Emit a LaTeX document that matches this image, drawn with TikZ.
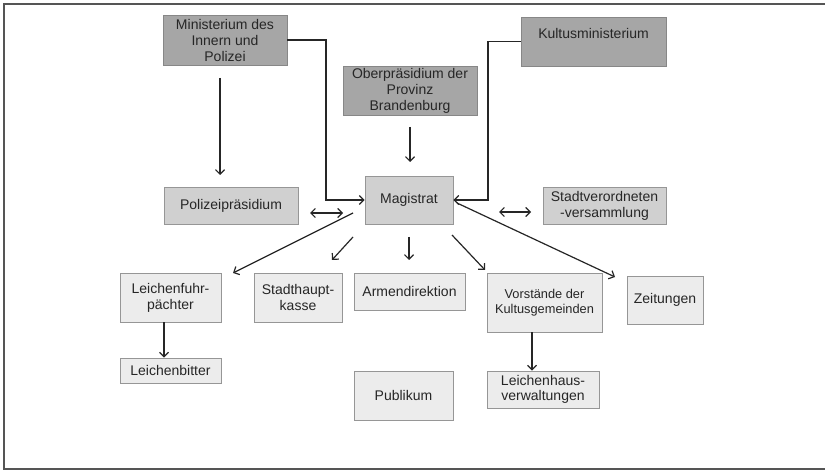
\documentclass[tikz,border=0pt]{standalone}
\usepackage{fontspec}
\setmainfont{Liberation Sans}
\usepackage{tikz}
\usetikzlibrary{arrows.meta, positioning}
\definecolor{boxdark}{RGB}{166,166,166}
\definecolor{boxmid}{RGB}{208,208,208}
\definecolor{boxlight}{RGB}{236,236,236}
\definecolor{boxline}{RGB}{150,150,150}
\definecolor{textgray}{RGB}{38,38,38}
\definecolor{framegray}{RGB}{85,85,85}
\tikzstyle{office} = [rectangle, inner sep=0pt, align=center, draw=boxline, line width=0.8pt, text=textgray, font=\fontsize{14}{16}\selectfont]
\tikzstyle{authority} = [office, fill=boxdark, draw=boxline!90!black]
\tikzstyle{cityoffice} = [office, fill=boxmid]
\tikzstyle{localoffice} = [office, fill=boxlight]
\tikzstyle{arrow} = [line width=1.2pt, color=black!85, -{Straight Barb[length=4.5pt,width=9pt]}]
\tikzstyle{dblarrow} = [line width=1.2pt, color=black!85, {Straight Barb[length=4.5pt,width=9pt]}-{Straight Barb[length=4.5pt,width=9pt]}]

\begin{document}
\begin{tikzpicture}[x=1pt, y=-1pt]

\useasboundingbox (0,0) rectangle (825,470);
\fill[white] (0,0) rectangle (825,470);

% Frame
\draw[framegray, line width=2pt] (825,4) -- (4,4) -- (4,469) -- (825,469);

% Upper authorities
\node[authority, minimum width=124pt, minimum height=50pt] (min_innern) at (225,40) {Ministerium des\\Innern und\\Polizei};
\node[authority, minimum width=134pt, minimum height=49pt] (ober_praes) at (410,90.5) {Oberpräsidium der\\Provinz\\Brandenburg};
\node[authority, minimum width=145pt, minimum height=49pt] (kultus_min) at (593.5,41.5) {Kultusministerium\\\mbox{}};

% City level
\node[cityoffice, minimum width=134pt, minimum height=37pt] (polizei) at (231,205.5) {Polizeipräsidium};
\node[cityoffice, minimum width=88pt, minimum height=48pt] (magistrat) at (409,200) {Magistrat};
\node[cityoffice, minimum width=123pt, minimum height=37pt] (stadtv) at (604.5,205.5) {Stadtverordneten\\-versammlung};

% Subordinate offices
\node[localoffice, minimum width=101pt, minimum height=49pt] (fuhr_paechter) at (170.5,297.5) {Leichenfuhr-\\pächter};
\node[localoffice, minimum width=88pt, minimum height=49pt] (stadt_kasse) at (298,297.5) {Stadthaupt-\\kasse};
\node[localoffice, minimum width=111pt, minimum height=37pt] (armen_dir) at (409.5,291.5) {Armendirektion};
\node[localoffice, minimum width=115pt, minimum height=59pt, font=\fontsize{12.8}{15}\selectfont] (vorstaende) at (544.5,302.5) {Vorstände der\\Kultusgemeinden};
\node[localoffice, minimum width=76pt, minimum height=48pt] (zeitungen) at (665,300) {Zeitungen};
\node[localoffice, minimum width=101pt, minimum height=25pt] (leichenbitter) at (170.5,370.5) {Leichenbitter};
\node[localoffice, minimum width=99pt, minimum height=49pt] (publikum) at (403.5,395.5) {Publikum};
\node[localoffice, minimum width=112pt, minimum height=37pt, font=\fontsize{14}{15}\selectfont] (leichenhaus) at (543,389.5) {Leichenhaus-\\verwaltungen};

% Free arrow ends
\coordinate (min_top) at (220,78);
\coordinate (pol_top) at (220,175);
\coordinate (ob_top) at (410,127);
\coordinate (mag_top) at (410,162);
\coordinate (min_bend) at (326,200);
\coordinate (kul_bend) at (488,200);
\coordinate (pm_left) at (310,213);
\coordinate (pm_right) at (343,213);
\coordinate (ms_left) at (499,212);
\coordinate (ms_right) at (531,212);
\coordinate (mag_fuhr) at (353,213);
\coordinate (to_fuhr) at (233,273);
\coordinate (mag_kasse) at (353,237);
\coordinate (to_kasse) at (332,260);
\coordinate (mag_armen) at (409,237);
\coordinate (to_armen) at (409,260);
\coordinate (mag_vorst) at (452,235);
\coordinate (to_vorst) at (485,270);
\coordinate (mag_zeit) at (457,203);
\coordinate (to_zeit) at (615,277);

% Chain of command
\draw[arrow] (min_top) -- (pol_top);
\draw[arrow] (ob_top) -- (mag_top);
\draw[arrow] (min_innern.east) -| (min_bend) -- (magistrat.west);
\draw[arrow] (kultus_min.west) -| (kul_bend) -- (magistrat.east);

% Mutual exchange
\draw[dblarrow] (pm_left) -- (pm_right);
\draw[dblarrow] (ms_left) -- (ms_right);

% Magistrat to offices
\draw[arrow] (mag_fuhr) -- (to_fuhr);
\draw[arrow] (mag_kasse) -- (to_kasse);
\draw[arrow] (mag_armen) -- (to_armen);
\draw[arrow] (mag_vorst) -- (to_vorst);
\draw[arrow] (mag_zeit) -- (to_zeit);

% Lower level
\draw[arrow] ([xshift=-6.5pt]fuhr_paechter.south) -- ([xshift=-6.5pt]leichenbitter.north);
\draw[arrow] ([xshift=-12.5pt]vorstaende.south) -- ([xshift=-12.5pt]vorstaende.south |- leichenhaus.north);

\end{tikzpicture}
\end{document}
